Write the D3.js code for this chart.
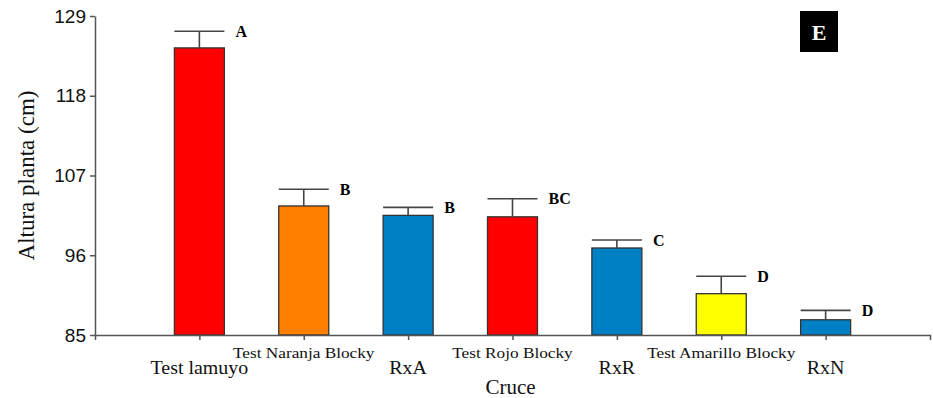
<!DOCTYPE html>
<html>
<head>
<meta charset="utf-8">
<script src="https://cdn.jsdelivr.net/npm/d3@7"></script>
<style>
  body { margin: 0; background: #fff; }
</style>
</head>
<body>
<script>
const width = 933;
const height = 398;

// data
const categories = ["Test lamuyo", "Test Naranja Blocky", "RxA", "Test Rojo Blocky", "RxR", "Test Amarillo Blocky", "RxN"];
const means = [124.6, 102.8, 101.5, 101.3, 97.0, 90.7, 87.1];
const errTops = [126.9, 105.1, 102.6, 103.8, 98.1, 93.1, 88.4];
const letters = ["A", "B", "B", "BC", "C", "D", "D"];
const barColors = ["#ff0000", "#ff8000", "#0080c4", "#ff0000", "#0080c4", "#ffff00", "#0080c4"];
const yTicks = [85, 96, 107, 118, 129];

const plotLeft = 95, plotRight = 930, plotTop = 16, plotBottom = 335;
const barWidth = 50;

let svg = d3.select("body")
    .append("svg")
    .attr("width", width)
    .attr("height", height)
    .style("font-family", "'Liberation Serif', 'Times New Roman', serif");

var xScale = d3.scalePoint()
    .domain(categories)
    .range([plotLeft, plotRight])
    .padding(1);

var yScale = d3.scaleLinear()
    .domain([85, 129])
    .range([plotBottom, plotTop]);

// bars
svg.selectAll("rect.bar")
    .data(categories)
    .enter()
    .append("rect")
    .attr("class", "bar")
    .attr("x", function(d) { return xScale(d) - barWidth / 2; })
    .attr("y", function(d, i) { return yScale(means[i]); })
    .attr("width", barWidth)
    .attr("height", function(d, i) { return yScale(85) - yScale(means[i]); })
    .attr("fill", function(d, i) { return barColors[i]; })
    .attr("stroke", "#333")
    .attr("stroke-width", 1.3);

// error bars (upper only)
let err = svg.append("g").attr("stroke", "#444").attr("stroke-width", 1.6);
err.selectAll("line.stem")
    .data(categories)
    .enter()
    .append("line")
    .attr("class", "stem")
    .attr("x1", function(d) { return xScale(d); })
    .attr("x2", function(d) { return xScale(d); })
    .attr("y1", function(d, i) { return yScale(means[i]); })
    .attr("y2", function(d, i) { return yScale(errTops[i]); });
err.selectAll("line.cap")
    .data(categories)
    .enter()
    .append("line")
    .attr("class", "cap")
    .attr("x1", function(d) { return xScale(d) - barWidth / 2; })
    .attr("x2", function(d) { return xScale(d) + barWidth / 2; })
    .attr("y1", function(d, i) { return yScale(errTops[i]); })
    .attr("y2", function(d, i) { return yScale(errTops[i]); });

// significance letters
svg.selectAll("text.letter")
    .data(categories)
    .enter()
    .append("text")
    .attr("class", "letter")
    .attr("x", function(d) { return xScale(d) + 36; })
    .attr("y", function(d, i) { return yScale(errTops[i]); })
    .attr("dy", "0.35em")
    .attr("font-size", 16)
    .attr("font-weight", "bold")
    .text(function(d, i) { return letters[i]; });

// axes
var yAxis = d3.axisLeft(yScale).tickValues(yTicks).tickSize(5).tickSizeOuter(0).tickPadding(4);
var gy = svg.append("g").attr("transform", "translate(" + plotLeft + ",0)").call(yAxis);
gy.selectAll("text")
    .attr("font-family", "'Liberation Sans', Arial, sans-serif")
    .attr("font-size", 19)
    .attr("fill", "#111");

var xAxis = d3.axisBottom(xScale).tickSize(5).tickSizeOuter(5).tickFormat("");
var gx = svg.append("g").attr("transform", "translate(0," + plotBottom + ")").call(xAxis);

svg.selectAll(".domain, .tick line").attr("stroke", "#555").attr("stroke-width", 1.5);

// category labels, long ones on the upper row
svg.selectAll("text.cat")
    .data(categories)
    .enter()
    .append("text")
    .attr("class", "cat")
    .attr("text-anchor", "middle")
    .attr("transform", function(d) {
        let longName = d.indexOf("Blocky") >= 0;
        return "translate(" + xScale(d) + "," + (longName ? 358 : 374) + ") scale(" + (longName ? 1.15 : 1.05) + ",1)";
    })
    .attr("font-size", function(d) { return d.indexOf("Blocky") >= 0 ? 15 : 19; })
    .attr("fill", "#111")
    .text(function(d) { return d; });

// axis titles
svg.append("text")
    .attr("x", (plotLeft + plotRight) / 2 - 2)
    .attr("y", 394)
    .attr("text-anchor", "middle")
    .attr("font-size", 21)
    .attr("fill", "#111")
    .text("Cruce");

svg.append("text")
    .attr("transform", "translate(34," + ((plotTop + plotBottom) / 2) + ") rotate(-90)")
    .attr("text-anchor", "middle")
    .attr("font-size", 23)
    .attr("fill", "#111")
    .text("Altura planta (cm)");

// panel tag
svg.append("rect")
    .attr("x", 800).attr("y", 11)
    .attr("width", 38).attr("height", 41)
    .attr("fill", "#000");
svg.append("text")
    .attr("x", 819).attr("y", 32)
    .attr("dy", "0.35em")
    .attr("text-anchor", "middle")
    .attr("font-size", 22)
    .attr("font-weight", "bold")
    .attr("fill", "#fff")
    .text("E");
</script>
</body>
</html>
